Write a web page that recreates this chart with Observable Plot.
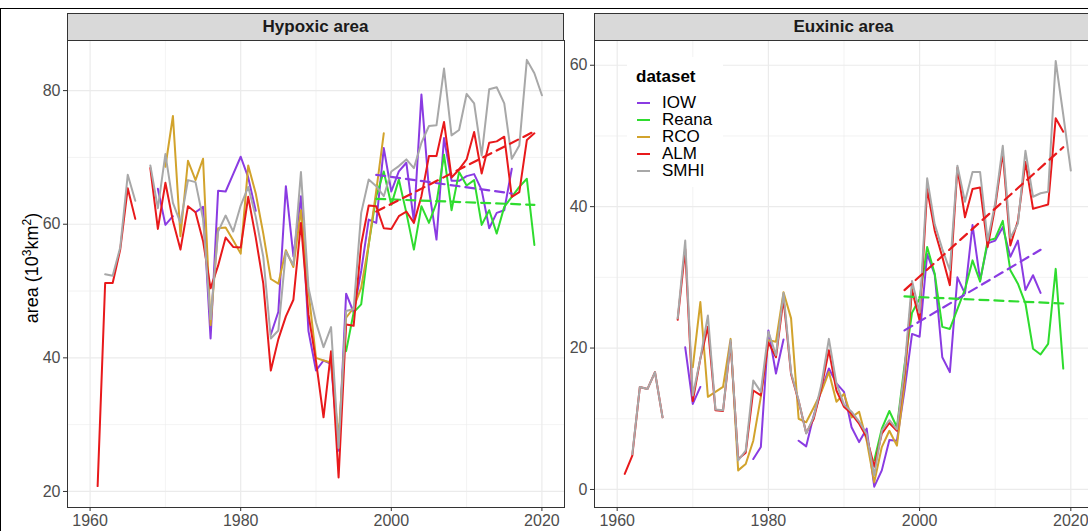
<!DOCTYPE html>
<html><head><meta charset="utf-8">
<script src="https://cdn.jsdelivr.net/npm/d3@7"></script>
<script src="https://cdn.jsdelivr.net/npm/@observablehq/plot@0.6"></script>
<style>
body{margin:0;background:#fff;}
#fig{position:relative;width:1088px;height:531px;overflow:hidden;background:#fff;font-family:"Liberation Sans",Arial,sans-serif;}
#fig svg{position:absolute;top:0;}
.frame{position:absolute;left:0;top:8px;width:1100px;height:540px;border-top:1px solid #000;border-left:1px solid #000;box-sizing:border-box;}
.strip{position:absolute;top:13px;height:28px;box-sizing:border-box;background:#d9d9d9;border:1px solid #333;font-weight:bold;font-size:17px;color:#1a1a1a;text-align:center;line-height:26px;}
.ytitle{position:absolute;left:31px;top:268px;transform:translate(-50%,-50%) rotate(-90deg);font-size:18px;color:#000;white-space:nowrap;}
.ytitle sup{font-size:12px;}
.legend{position:absolute;left:627px;top:57px;width:96px;height:130px;background:#fff;}
.legend .t{position:absolute;left:9px;top:10px;font-weight:bold;font-size:17px;color:#000;}
.legend .it{position:absolute;left:10px;height:17px;font-size:17px;color:#000;line-height:17px;}
.legend .sw{position:absolute;left:0;top:8px;width:13px;height:2px;}
.legend .lb{position:absolute;left:25px;top:0;}
</style></head><body><div id="fig"></div><script>
const years = [1960,1961,1962,1963,1964,1965,1966,1967,1968,1969,
1970,1971,1972,1973,1974,1975,1976,1977,1978,1979,
1980,1981,1982,1983,1984,1985,1986,1987,1988,1989,
1990,1991,1992,1993,1994,1995,1996,1997,1998,1999,
2000,2001,2002,2003,2004,2005,2006,2007,2008,2009,
2010,2011,2012,2013,2014,2015,2016,2017,2018,2019,2020];
const datasets = ["IOW","Reana","RCO","ALM","SMHI"];
const colors = ["#8a3be2","#2fdc2f","#d2a32c","#e8191b","#a8a8a8"];
const panelTitles = ["Hypoxic area","Euxinic area"];
const xTicks = [1960,1980,2000,2020];
const xMinor = [1970,1990,2010];
const hypYTicks = [20,40,60,80];
const hypYMinor = [30,50,70];
const euxYTicks = [0,20,40,60];
const euxYMinor = [10,30,50];

// Hypoxic area (10^3 km^2), 1960-2020
const hypIOW = [null,null,null,null,null,null,null,null,null,65.3,
59.9,61.2,null,null,61.8,62.6,42.9,65.0,64.9,67.5,
70.1,67.0,62.0,null,43.5,46.9,65.7,55.2,64.2,44.0,
38.1,39.6,39.1,26.1,49.6,46.8,53.0,60.7,60.2,71.4,
64.9,67.9,69.2,60.4,79.4,65.2,57.7,72.9,66.5,66.5,
67.2,67.5,65.1,59.4,61.7,62.1,68.3,null,null,null,null];
const hypReana = [null,null,null,null,null,null,null,null,null,null,
null,null,null,null,null,null,null,null,null,null,
null,null,null,null,null,null,null,null,null,null,
null,null,null,null,41.0,46.8,48.0,57.0,64.2,67.9,
62.9,66.7,61.7,56.2,62.7,60.2,63.2,70.4,62.1,67.8,
65.8,66.6,59.9,62.1,58.6,62.6,64.1,65.6,66.8,56.9,null];
const hypRCO = [null,null,null,null,null,null,null,null,null,null,
68.6,76.2,58.2,69.5,66.6,69.8,44.9,59.4,59.5,57.6,
55.6,68.8,64.6,58.6,51.8,51.1,56.1,53.6,62.1,50.0,
40.0,39.6,39.3,28.0,46.0,47.5,50.5,57.0,65.0,73.6,
null,null,null,null,null,null,null,null,null,null,
null,null,null,null,null,null,null,null,null,null,null];
const hypALM = [null,20.8,51.2,51.2,56.2,65.4,60.8,null,68.4,59.3,
66.2,60.5,56.2,62.7,61.8,57.5,50.4,53.8,58.0,56.6,
56.5,64.1,58.0,51.1,38.1,42.8,46.2,48.7,60.2,46.5,
39.5,31.1,41.0,22.1,45.0,44.8,57.0,62.8,62.7,59.4,
59.3,61.2,61.9,60.2,64.2,70.2,70.2,75.3,67.0,68.2,
69.7,73.8,67.6,72.2,72.4,73.1,64.1,64.8,72.6,73.6,null];
const hypSMHI = [null,null,52.5,52.3,56.5,67.4,63.5,null,68.8,62.4,
70.5,63.2,60.2,66.6,66.3,60.8,45.8,58.9,61.3,58.9,
62.8,65.6,61.1,55.1,42.9,44.1,55.9,53.9,67.8,50.5,
45.3,41.6,44.6,26.5,47.0,47.3,61.7,66.7,65.7,64.2,
67.9,68.7,69.7,68.4,72.2,74.7,74.8,83.3,73.3,74.1,
79.5,78.1,70.3,80.2,80.5,78.1,69.8,71.8,84.6,82.6,79.3];

// Euxinic area (10^3 km^2), 1960-2020
const euxIOW = [null,null,null,null,null,null,null,null,null,20.1,
12.1,14.5,null,null,null,null,null,null,4.3,6.0,
22.5,16.4,21.2,null,6.9,6.1,10.5,14.0,17.1,15.0,
13.8,8.8,6.7,8.6,0.4,2.7,7.0,6.9,14.0,22.0,
21.6,33.3,30.4,18.7,16.6,30.0,27.7,37.4,29.6,34.8,
35.2,37.1,32.9,35.2,28.2,30.3,27.8,null,null,null,null];
const euxReana = [null,null,null,null,null,null,null,null,null,null,
null,null,null,null,null,null,null,null,null,null,
null,null,null,null,null,null,null,null,null,null,
null,null,null,null,4.1,8.6,11.1,8.8,17.5,25.0,
27.0,34.3,30.5,23.0,22.7,25.5,28.3,32.4,29.4,35.2,
35.5,38.0,31.0,29.1,26.3,19.9,19.1,20.6,31.2,17.1,null];
const euxRCO = [null,null,null,null,null,null,null,null,null,null,
17.3,26.5,13.1,13.8,14.5,21.3,2.7,3.6,6.9,13.1,
21.1,20.9,27.9,24.2,10.0,9.5,11.6,13.8,16.6,12.4,
13.5,10.2,11.0,6.9,1.0,6.0,8.3,6.2,15.0,28.5,
null,null,null,null,null,null,null,null,null,null,
null,null,null,null,null,null,null,null,null,null,null];
const euxALM = [null,2.2,4.8,14.5,14.2,16.6,10.2,null,24.0,34.0,
12.5,18.5,23.0,11.2,11.1,20.8,4.3,5.2,14.0,13.3,
20.8,18.7,27.0,16.3,12.5,8.0,10.0,14.3,19.7,14.0,
11.7,10.7,9.3,7.4,3.2,7.9,9.4,8.3,16.5,28.2,
23.9,42.5,36.6,32.9,28.9,45.5,38.5,42.5,42.7,34.3,
40.0,47.7,34.5,38.0,46.3,39.7,40.0,40.3,52.5,50.6,null];
const euxSMHI = [null,null,5.0,14.5,14.2,16.6,10.2,null,24.2,35.2,
13.3,18.5,24.6,11.3,11.2,21.1,4.1,5.5,15.4,13.8,
22.3,19.0,27.8,16.5,12.6,7.9,10.3,14.8,21.3,15.0,
12.0,11.0,9.6,7.8,2.0,8.3,9.8,8.5,17.0,29.5,
25.0,44.0,37.5,34.0,31.0,45.8,40.7,44.9,44.9,35.2,
40.5,48.6,35.6,37.6,47.9,41.4,41.9,42.1,60.6,53.0,45.1];

// Linear trend lines (start/end years and values)
const trendDatasets = ["IOW","Reana","ALM"];
const trendYears = {IOW:[1998,2016], Reana:[1998,2019], ALM:[1998,2019]};
const hypTrend = {IOW:[67.4,64.6], Reana:[63.8,62.9], ALM:[61.9,73.9]};
const euxTrend = {IOW:[22.5,33.9], Reana:[27.3,26.3], ALM:[28.2,48.4]};

function rowsFrom(series){
  const rows=[];
  datasets.forEach(ds=>{
    const arr=series[ds];
    years.forEach((yr,i)=>rows.push({year:yr,value:arr[i],dataset:ds}));
  });
  return rows;
}
function trendRows(tr){
  const rows=[];
  trendDatasets.forEach(ds=>{
    trendYears[ds].forEach((yr,i)=>rows.push({year:yr,value:tr[ds][i],dataset:ds}));
  });
  return rows;
}

function panel(series,tr,yDomain,yTicks,yMinor,width,marginLeft){
  const grid="#ebebeb";
  return Plot.plot({
    width, height:531, marginLeft, marginRight:2, marginTop:40, marginBottom:24,
    x:{domain:[1957,2023]},
    y:{domain:yDomain},
    color:{domain:datasets, range:colors},
    style:{fontFamily:'"Liberation Sans",Arial,sans-serif', fontSize:"16px", color:"#4d4d4d", background:"transparent", overflow:"visible"},
    marks:[
      Plot.gridX(xMinor,{stroke:grid,strokeOpacity:1,strokeWidth:0.6}),
      Plot.gridY(yMinor,{stroke:grid,strokeOpacity:1,strokeWidth:0.6}),
      Plot.gridX(xTicks,{stroke:grid,strokeOpacity:1,strokeWidth:1.2}),
      Plot.gridY(yTicks,{stroke:grid,strokeOpacity:1,strokeWidth:1.2}),
      Plot.line(rowsFrom(series),{x:"year",y:"value",z:"dataset",stroke:"dataset",strokeWidth:2}),
      Plot.line(trendRows(tr),{x:"year",y:"value",z:"dataset",stroke:"dataset",strokeWidth:2.2,strokeDasharray:"9,6"}),
      Plot.frame({stroke:"#333",strokeWidth:1}),
      Plot.axisX(xTicks,{tickSize:4,tickPadding:3,label:null,tickFormat:d=>String(d),stroke:"#333",fill:"#4d4d4d"}),
      Plot.axisY(yTicks,{tickSize:4,tickPadding:3,label:null,stroke:"#333",fill:"#4d4d4d"})
    ]
  });
}

const fig=document.getElementById("fig");
const hyp=panel({IOW:hypIOW,Reana:hypReana,RCO:hypRCO,ALM:hypALM,SMHI:hypSMHI},hypTrend,[17.6,87.5],hypYTicks,hypYMinor,566,67);
hyp.style.left="0px";
fig.appendChild(hyp);
const eux=panel({IOW:euxIOW,Reana:euxReana,RCO:euxRCO,ALM:euxALM,SMHI:euxSMHI},euxTrend,[-2.55,63.5],euxYTicks,euxYMinor,541,40);
eux.style.left="554px";
fig.appendChild(eux);

const fr=document.createElement("div"); fr.className="frame"; fig.appendChild(fr);

[[67,497],[594,499]].forEach(([l,w],i)=>{
  const s=document.createElement("div"); s.className="strip";
  s.style.left=l+"px"; s.style.width=w+"px"; s.textContent=panelTitles[i];
  fig.appendChild(s);
});

const yt=document.createElement("div"); yt.className="ytitle";
yt.innerHTML="area (10<sup>3</sup>km<sup>2</sup>)";
fig.appendChild(yt);

const lg=document.createElement("div"); lg.className="legend";
const t=document.createElement("div"); t.className="t"; t.textContent="dataset"; lg.appendChild(t);
datasets.forEach((ds,i)=>{
  const it=document.createElement("div"); it.className="it"; it.style.top=(37+i*17)+"px";
  const sw=document.createElement("div"); sw.className="sw"; sw.style.background=colors[i];
  const lb=document.createElement("div"); lb.className="lb"; lb.textContent=ds;
  it.appendChild(sw); it.appendChild(lb); lg.appendChild(it);
});
fig.appendChild(lg);
</script></body></html>
